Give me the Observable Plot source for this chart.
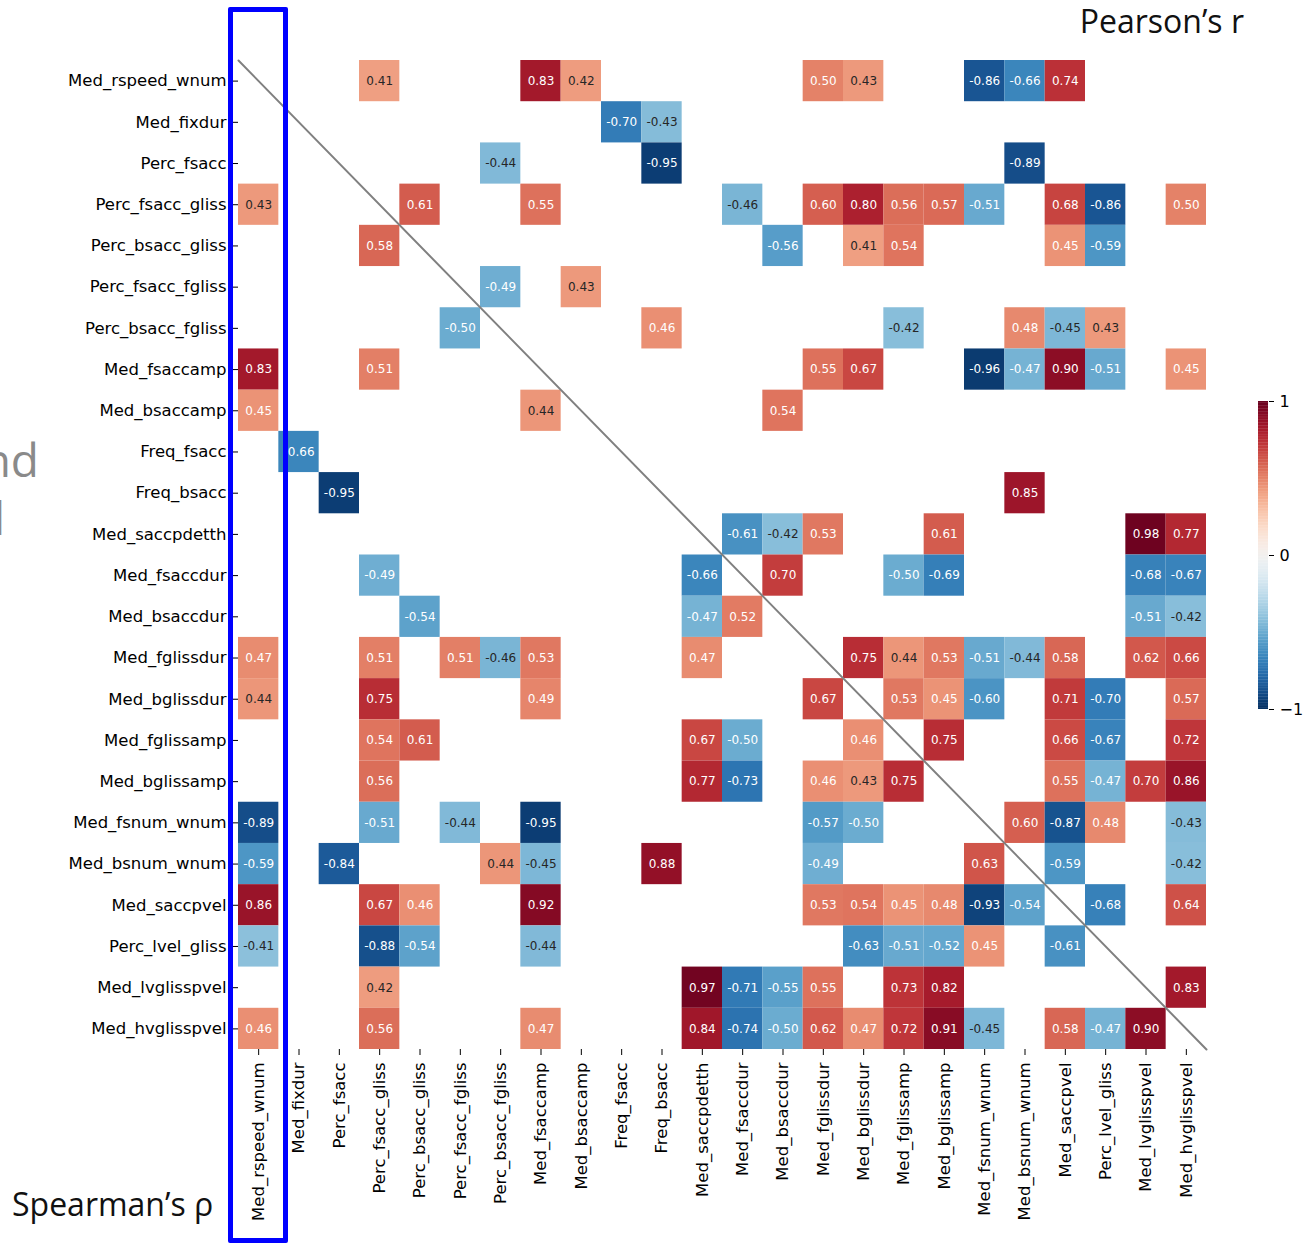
<!DOCTYPE html>
<html>
<head>
<meta charset="utf-8">
<script src="https://cdn.jsdelivr.net/npm/d3@7"></script>
<script src="https://cdn.jsdelivr.net/npm/@observablehq/plot@0.6"></script>
<style>
  html, body { margin: 0; padding: 0; background: #fff; }
  #wrap { position: relative; width: 1304px; height: 1243px; overflow: hidden; }
  #wrap svg { position: absolute; overflow: visible; }
  .title { position: absolute; font-family: "Open Sans", sans-serif; color: #111; white-space: nowrap; line-height: 1.2; }
  .cut { position: absolute; font-family: "Open Sans", sans-serif; color: #8a8a8a; white-space: nowrap; line-height: 1; }
  #hl { position: absolute; left: 228px; top: 7px; width: 60px; height: 1236px; box-sizing: border-box; border: 5px solid #0000ff; border-radius: 2px; }
</style>
</head>
<body>
<div id="wrap"></div>
<script>
// Variable names (rows top-to-bottom, columns left-to-right)
const vars = ["Med_rspeed_wnum","Med_fixdur","Perc_fsacc","Perc_fsacc_gliss","Perc_bsacc_gliss",
  "Perc_fsacc_fgliss","Perc_bsacc_fgliss","Med_fsaccamp","Med_bsaccamp","Freq_fsacc","Freq_bsacc",
  "Med_saccpdetth","Med_fsaccdur","Med_bsaccdur","Med_fglissdur","Med_bglissdur","Med_fglissamp",
  "Med_bglissamp","Med_fsnum_wnum","Med_bsnum_wnum","Med_saccpvel","Perc_lvel_gliss",
  "Med_lvglisspvel","Med_hvglisspvel"];

// Significant correlations: [row index, column index, value]
const corrCells = [
  [0,3,0.41],[0,7,0.83],[0,8,0.42],[0,14,0.50],[0,15,0.43],[0,18,-0.86],[0,19,-0.66],[0,20,0.74],
  [1,9,-0.70],[1,10,-0.43],
  [2,6,-0.44],[2,10,-0.95],[2,19,-0.89],
  [3,0,0.43],[3,4,0.61],[3,7,0.55],[3,12,-0.46],[3,14,0.60],[3,15,0.80],[3,16,0.56],[3,17,0.57],[3,18,-0.51],[3,20,0.68],[3,21,-0.86],[3,23,0.50],
  [4,3,0.58],[4,13,-0.56],[4,15,0.41],[4,16,0.54],[4,20,0.45],[4,21,-0.59],
  [5,6,-0.49],[5,8,0.43],
  [6,5,-0.50],[6,10,0.46],[6,16,-0.42],[6,19,0.48],[6,20,-0.45],[6,21,0.43],
  [7,0,0.83],[7,3,0.51],[7,14,0.55],[7,15,0.67],[7,18,-0.96],[7,19,-0.47],[7,20,0.90],[7,21,-0.51],[7,23,0.45],
  [8,0,0.45],[8,7,0.44],[8,13,0.54],
  [9,1,-0.66],
  [10,2,-0.95],[10,19,0.85],
  [11,12,-0.61],[11,13,-0.42],[11,14,0.53],[11,17,0.61],[11,22,0.98],[11,23,0.77],
  [12,3,-0.49],[12,11,-0.66],[12,13,0.70],[12,16,-0.50],[12,17,-0.69],[12,22,-0.68],[12,23,-0.67],
  [13,4,-0.54],[13,11,-0.47],[13,12,0.52],[13,22,-0.51],[13,23,-0.42],
  [14,0,0.47],[14,3,0.51],[14,5,0.51],[14,6,-0.46],[14,7,0.53],[14,11,0.47],[14,15,0.75],[14,16,0.44],[14,17,0.53],[14,18,-0.51],[14,19,-0.44],[14,20,0.58],[14,22,0.62],[14,23,0.66],
  [15,0,0.44],[15,3,0.75],[15,7,0.49],[15,14,0.67],[15,16,0.53],[15,17,0.45],[15,18,-0.60],[15,20,0.71],[15,21,-0.70],[15,23,0.57],
  [16,3,0.54],[16,4,0.61],[16,11,0.67],[16,12,-0.50],[16,15,0.46],[16,17,0.75],[16,20,0.66],[16,21,-0.67],[16,23,0.72],
  [17,3,0.56],[17,11,0.77],[17,12,-0.73],[17,14,0.46],[17,15,0.43],[17,16,0.75],[17,20,0.55],[17,21,-0.47],[17,22,0.70],[17,23,0.86],
  [18,0,-0.89],[18,3,-0.51],[18,5,-0.44],[18,7,-0.95],[18,14,-0.57],[18,15,-0.50],[18,19,0.60],[18,20,-0.87],[18,21,0.48],[18,23,-0.43],
  [19,0,-0.59],[19,2,-0.84],[19,6,0.44],[19,7,-0.45],[19,10,0.88],[19,14,-0.49],[19,18,0.63],[19,20,-0.59],[19,23,-0.42],
  [20,0,0.86],[20,3,0.67],[20,4,0.46],[20,7,0.92],[20,14,0.53],[20,15,0.54],[20,16,0.45],[20,17,0.48],[20,18,-0.93],[20,19,-0.54],[20,21,-0.68],[20,23,0.64],
  [21,0,-0.41],[21,3,-0.88],[21,4,-0.54],[21,7,-0.44],[21,15,-0.63],[21,16,-0.51],[21,17,-0.52],[21,18,0.45],[21,20,-0.61],
  [22,3,0.42],[22,11,0.97],[22,12,-0.71],[22,13,-0.55],[22,14,0.55],[22,16,0.73],[22,17,0.82],[22,23,0.83],
  [23,0,0.46],[23,3,0.56],[23,7,0.47],[23,11,0.84],[23,12,-0.74],[23,13,-0.50],[23,14,0.62],[23,15,0.47],[23,16,0.72],[23,17,0.91],[23,18,-0.45],[23,20,0.58],[23,21,-0.47],[23,22,0.90]
];

const colorTicks = [-1, 0, 1];

const n = vars.length;
const cells = corrCells.map(([r, c, v]) => ({r, c, v}));
const isLight = d => d.v >= 0.45 || d.v <= -0.47;
const centers = d3.range(n).map(i => i + 0.5);
const nameAt = t => vars[Math.floor(t)];
const colorOpts = {type: "linear", domain: [-1, 1], scheme: "rdbu", reverse: true};

const chart = Plot.plot({
  width: 1304, height: 1243,
  marginLeft: 238, marginRight: 98, marginTop: 60, marginBottom: 194,
  style: {fontFamily: "DejaVu Sans, sans-serif", fontSize: "16.5px", background: "transparent", color: "black"},
  x: {domain: [0, n], ticks: centers, tickFormat: nameAt, tickRotate: -90, tickSize: 6, tickPadding: 7, label: null},
  y: {domain: [0, n], reverse: true, ticks: centers, tickFormat: nameAt, tickSize: 6, tickPadding: 6, label: null},
  color: colorOpts,
  marks: [
    Plot.rect(cells, {x1: "c", x2: d => d.c + 1, y1: "r", y2: d => d.r + 1, fill: "v"}),
    Plot.line([[0, 0], [n, n]], {x: d => d[0], y: d => d[1], stroke: "#808080", strokeWidth: 2}),
    Plot.text(cells.filter(isLight), {x: d => d.c + 0.5, y: d => d.r + 0.5, text: d => d.v.toFixed(2), fill: "white", fontSize: 12}),
    Plot.text(cells.filter(d => !isLight(d)), {x: d => d.c + 0.5, y: d => d.r + 0.5, text: d => d.v.toFixed(2), fill: "#262626", fontSize: 12})
  ]
});
chart.style.left = "0px"; chart.style.top = "0px";

const stops = d3.range(-1, 1, 0.01);
const bar = Plot.plot({
  width: 44, height: 328,
  marginTop: 10, marginBottom: 10, marginLeft: 0, marginRight: 34,
  style: {fontFamily: "DejaVu Sans, sans-serif", fontSize: "16px", background: "transparent", color: "black"},
  x: {axis: null, domain: [0, 1]},
  y: {domain: [-1, 1], ticks: colorTicks, tickFormat: d => d < 0 ? "\u22121" : String(d), axis: "right", tickSize: 5, tickPadding: 6, label: null},
  color: colorOpts,
  marks: [
    Plot.rect(stops, {x1: 0, x2: 1, y1: d => d, y2: d => Math.min(1, d + 0.012), fill: d => d + 0.005})
  ]
});
bar.style.left = "1258px"; bar.style.top = "391px";

const wrap = document.getElementById("wrap");
wrap.appendChild(chart);
wrap.appendChild(bar);

function addDiv(cls, text, css) {
  const el = document.createElement("div");
  el.className = cls; el.textContent = text;
  Object.assign(el.style, css);
  wrap.appendChild(el);
  return el;
}
addDiv("title", "Pearson\u2019s r", {right: "60px", top: "2px", fontSize: "32px"});
addDiv("title", "Spearman\u2019s \u03c1", {left: "12px", top: "1185px", fontSize: "32px"});
addDiv("cut", "nd", {right: "1265px", top: "436px", fontSize: "46px"});
addDiv("cut", "l", {right: "1299px", top: "494px", fontSize: "46px"});
const hl = document.createElement("div"); hl.id = "hl"; wrap.appendChild(hl);
</script>
</body>
</html>
